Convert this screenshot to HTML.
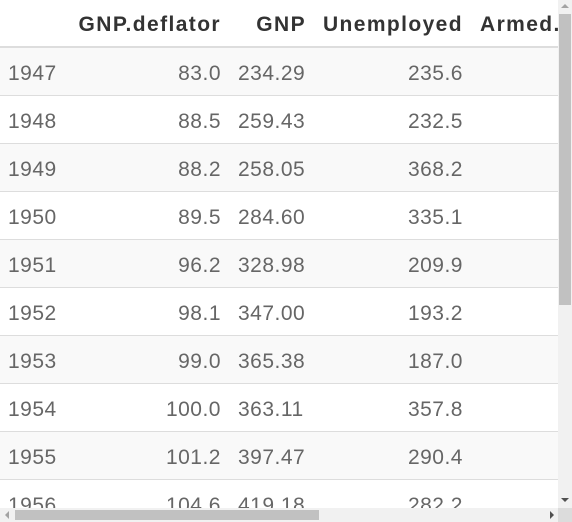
<!DOCTYPE html>
<html><head><meta charset="utf-8"><style>
body{margin:0;width:572px;height:522px;overflow:hidden;background:#fff;font-family:"Liberation Sans",sans-serif;position:relative}
.wrap{position:absolute;left:0;top:0;width:558px;height:508px;overflow:hidden}
.hdr{position:absolute;top:0;left:0;width:558px;height:46px;border-bottom:2px solid #ddd;}
.row{position:absolute;left:0;width:558px;height:47px;border-bottom:1px solid #ddd}
.c{position:absolute;top:2px;line-height:47px;font-size:21px;color:#666;white-space:nowrap;letter-spacing:0.5px}
.h{position:absolute;top:2px;line-height:46px;font-size:21px;font-weight:bold;color:#333;white-space:nowrap;letter-spacing:1.4px}
.r{text-align:right}
</style></head><body>
<div class="wrap">
<div class="hdr">
<span class="h r" style="right:337px">GNP.deflator</span>
<span class="h r" style="right:252px">GNP</span>
<span class="h r" style="right:95px">Unemployed</span>
<span class="h" style="left:480px">Armed.Forces</span>
</div>
<div id="rows"></div>
</div>
<div style="position:absolute;left:558px;top:0;width:14px;height:508px;background:#f1f1f1">
<div style="position:absolute;left:3px;top:4px;width:0;height:0;border-left:4px solid transparent;border-right:4px solid transparent;border-bottom:4px solid #a3a3a3"></div>
<div style="position:absolute;left:1px;top:14px;width:12px;height:291px;background:#c1c1c1"></div>
<div style="position:absolute;left:3px;top:498px;width:0;height:0;border-left:4px solid transparent;border-right:4px solid transparent;border-top:4px solid #505050"></div>
</div>
<div style="position:absolute;left:0;top:508px;width:558px;height:14px;background:#f1f1f1">
<div style="position:absolute;left:5px;top:3px;width:0;height:0;border-top:4px solid transparent;border-bottom:4px solid transparent;border-right:4px solid #a3a3a3"></div>
<div style="position:absolute;left:15px;top:2px;width:304px;height:10px;background:#c1c1c1"></div>
</div>
<div style="position:absolute;left:558px;top:508px;width:14px;height:14px;background:#dcdcdc"></div>
<div style="position:absolute;left:550px;top:511px;width:0;height:0;border-top:4px solid transparent;border-bottom:4px solid transparent;border-left:4px solid #505050"></div>
<script>
const years=["1947","1948","1949","1950","1951","1952","1953","1954","1955","1956"];
const deflator=["83.0","88.5","88.2","89.5","96.2","98.1","99.0","100.0","101.2","104.6"];
const gnp=["234.29","259.43","258.05","284.60","328.98","347.00","365.38","363.11","397.47","419.18"];
const unemployed=["235.6","232.5","368.2","335.1","209.9","193.2","187.0","357.8","290.4","282.2"];
const rows=document.getElementById('rows');
years.forEach((y,i)=>{
  const r=document.createElement('div');
  r.className='row';
  
  
  r.style.top=(48+i*48)+'px';
  r.style.background=i%2===0?'#f9f9f9':'#fff';
  const cells=[[y,'left:8px'],[deflator[i],'right:337px'],[gnp[i],'left:238px'],[unemployed[i],'right:95px']];
  cells.forEach((c)=>{
    const s=document.createElement('span');
    s.className='c';
    
    
    s.style.cssText=c[1];
    s.textContent=c[0];
    r.appendChild(s);
  });
  rows.appendChild(r);
});
</script>
</body></html>
